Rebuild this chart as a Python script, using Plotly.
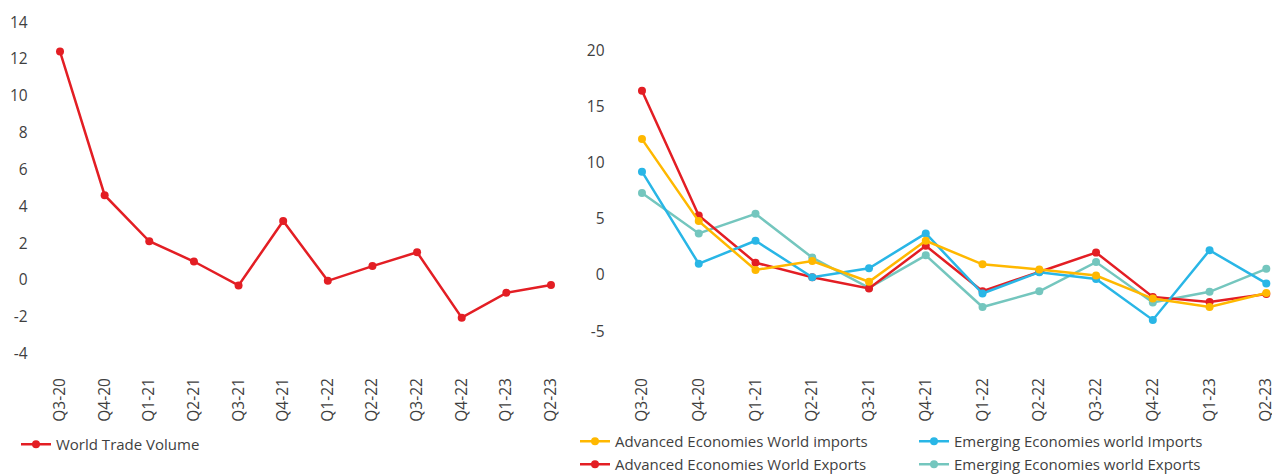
import plotly.graph_objects as go

quarters = ["Q3-20", "Q4-20", "Q1-21", "Q2-21", "Q3-21", "Q4-21",
            "Q1-22", "Q2-22", "Q3-22", "Q4-22", "Q1-23", "Q2-23"]

world_trade_volume = [12.4, 4.6, 2.1, 1.0, -0.3, 3.2, -0.05, 0.75, 1.5, -2.05, -0.7, -0.27]

adv_imports = [12.1, 4.8, 0.45, 1.25, -0.6, 3.05, 0.95, 0.5, -0.05, -2.1, -2.85, -1.6]
adv_exports = [16.4, 5.3, 1.1, -0.2, -1.2, 2.6, -1.45, 0.3, 2.0, -1.95, -2.4, -1.7]
em_imports = [9.2, 1.0, 3.05, -0.2, 0.6, 3.7, -1.65, 0.25, -0.35, -4.0, 2.2, -0.75]
em_exports = [7.3, 3.7, 5.45, 1.55, -1.15, 1.75, -2.85, -1.45, 1.15, -2.45, -1.5, 0.55]

left_ticks = [-4, -2, 0, 2, 4, 6, 8, 10, 12, 14]
left_tick_text = ["-4", "-2", "0", "2", "4", "6", "8", "10", "12", "14"]
right_ticks = [-5, 0, 5, 10, 15, 20]
right_tick_text = ["-5", "0", "5", "10", "15", "20"]

RED = "#E31E24"
YELLOW = "#FFB800"
BLUE = "#29B6E6"
TEAL = "#74C6BE"
TEXT = "#3F3F3F"
FONT = "Open Sans"
FSIZE = 15.5
LSIZE = 15

W, H = 1272, 474

fig = go.Figure()

fig.add_trace(go.Scatter(
    x=quarters, y=world_trade_volume, name="World Trade Volume",
    mode="lines+markers", line=dict(color=RED, width=2.5),
    marker=dict(size=8, color=RED), xaxis="x", yaxis="y", legend="legend"))

# right panel: imports go in the first legend row, exports in the second
right_series = [
    ("Emerging Economies world Exports", em_exports, TEAL, "legend3", 2),
    ("Advanced Economies World Exports", adv_exports, RED, "legend3", 1),
    ("Emerging Economies world Imports", em_imports, BLUE, "legend2", 2),
    ("Advanced Economies World imports", adv_imports, YELLOW, "legend2", 1),
]
for name, vals, color, leg, rank in right_series:
    fig.add_trace(go.Scatter(
        x=quarters, y=vals, name=name, mode="lines+markers",
        line=dict(color=color, width=2.5), marker=dict(size=8, color=color),
        xaxis="x2", yaxis="y2", legend=leg, legendrank=rank))

# pixel-based geometry (margins are zero, so paper coords map directly to pixels)
y_top, y_bot = 3.7, 372.0
ydom = [1 - y_bot / H, 1 - y_top / H]

axis_common = dict(showgrid=False, zeroline=False, showline=False, ticks="",
                   automargin=False,
                   tickfont=dict(family=FONT, size=FSIZE, color=TEXT))

legend_common = dict(xanchor="left", yanchor="top", orientation="h",
                     itemwidth=30, bgcolor="rgba(0,0,0,0)",
                     font=dict(family=FONT, size=LSIZE, color=TEXT))

fig.update_layout(
    width=W, height=H,
    margin=dict(l=0, r=0, t=0, b=0, autoexpand=False),
    paper_bgcolor="white", plot_bgcolor="white",
    font=dict(family=FONT, size=FSIZE, color=TEXT),
    xaxis=dict(domain=[37.7 / W, 573.3 / W], type="category",
               range=[-0.5, 11.5], tickangle=-90, ticklabelstandoff=2,
               anchor="y", **axis_common),
    yaxis=dict(domain=ydom, range=[-5, 15], tickvals=left_ticks,
               ticktext=left_tick_text, ticklabelstandoff=9, anchor="x",
               **axis_common),
    xaxis2=dict(domain=[613.6 / W, 1.0], type="category",
                range=[-0.5, 11.1], tickangle=-90, ticklabelstandoff=2,
                anchor="y2", **axis_common),
    yaxis2=dict(domain=ydom, range=[(275 - y_bot) / 11.23, (275 - y_top) / 11.23],
                tickvals=right_ticks, ticktext=right_tick_text,
                ticklabelstandoff=8, anchor="x2", **axis_common),
    legend=dict(x=16 / W, y=1 - 428 / H, **legend_common),
    legend2=dict(x=575 / W, y=1 - 425 / H, entrywidth=294,
                 entrywidthmode="pixels", **legend_common),
    legend3=dict(x=575 / W, y=1 - 448 / H, entrywidth=294,
                 entrywidthmode="pixels", **legend_common),
    showlegend=True,
)

fig.write_html("out.html")
